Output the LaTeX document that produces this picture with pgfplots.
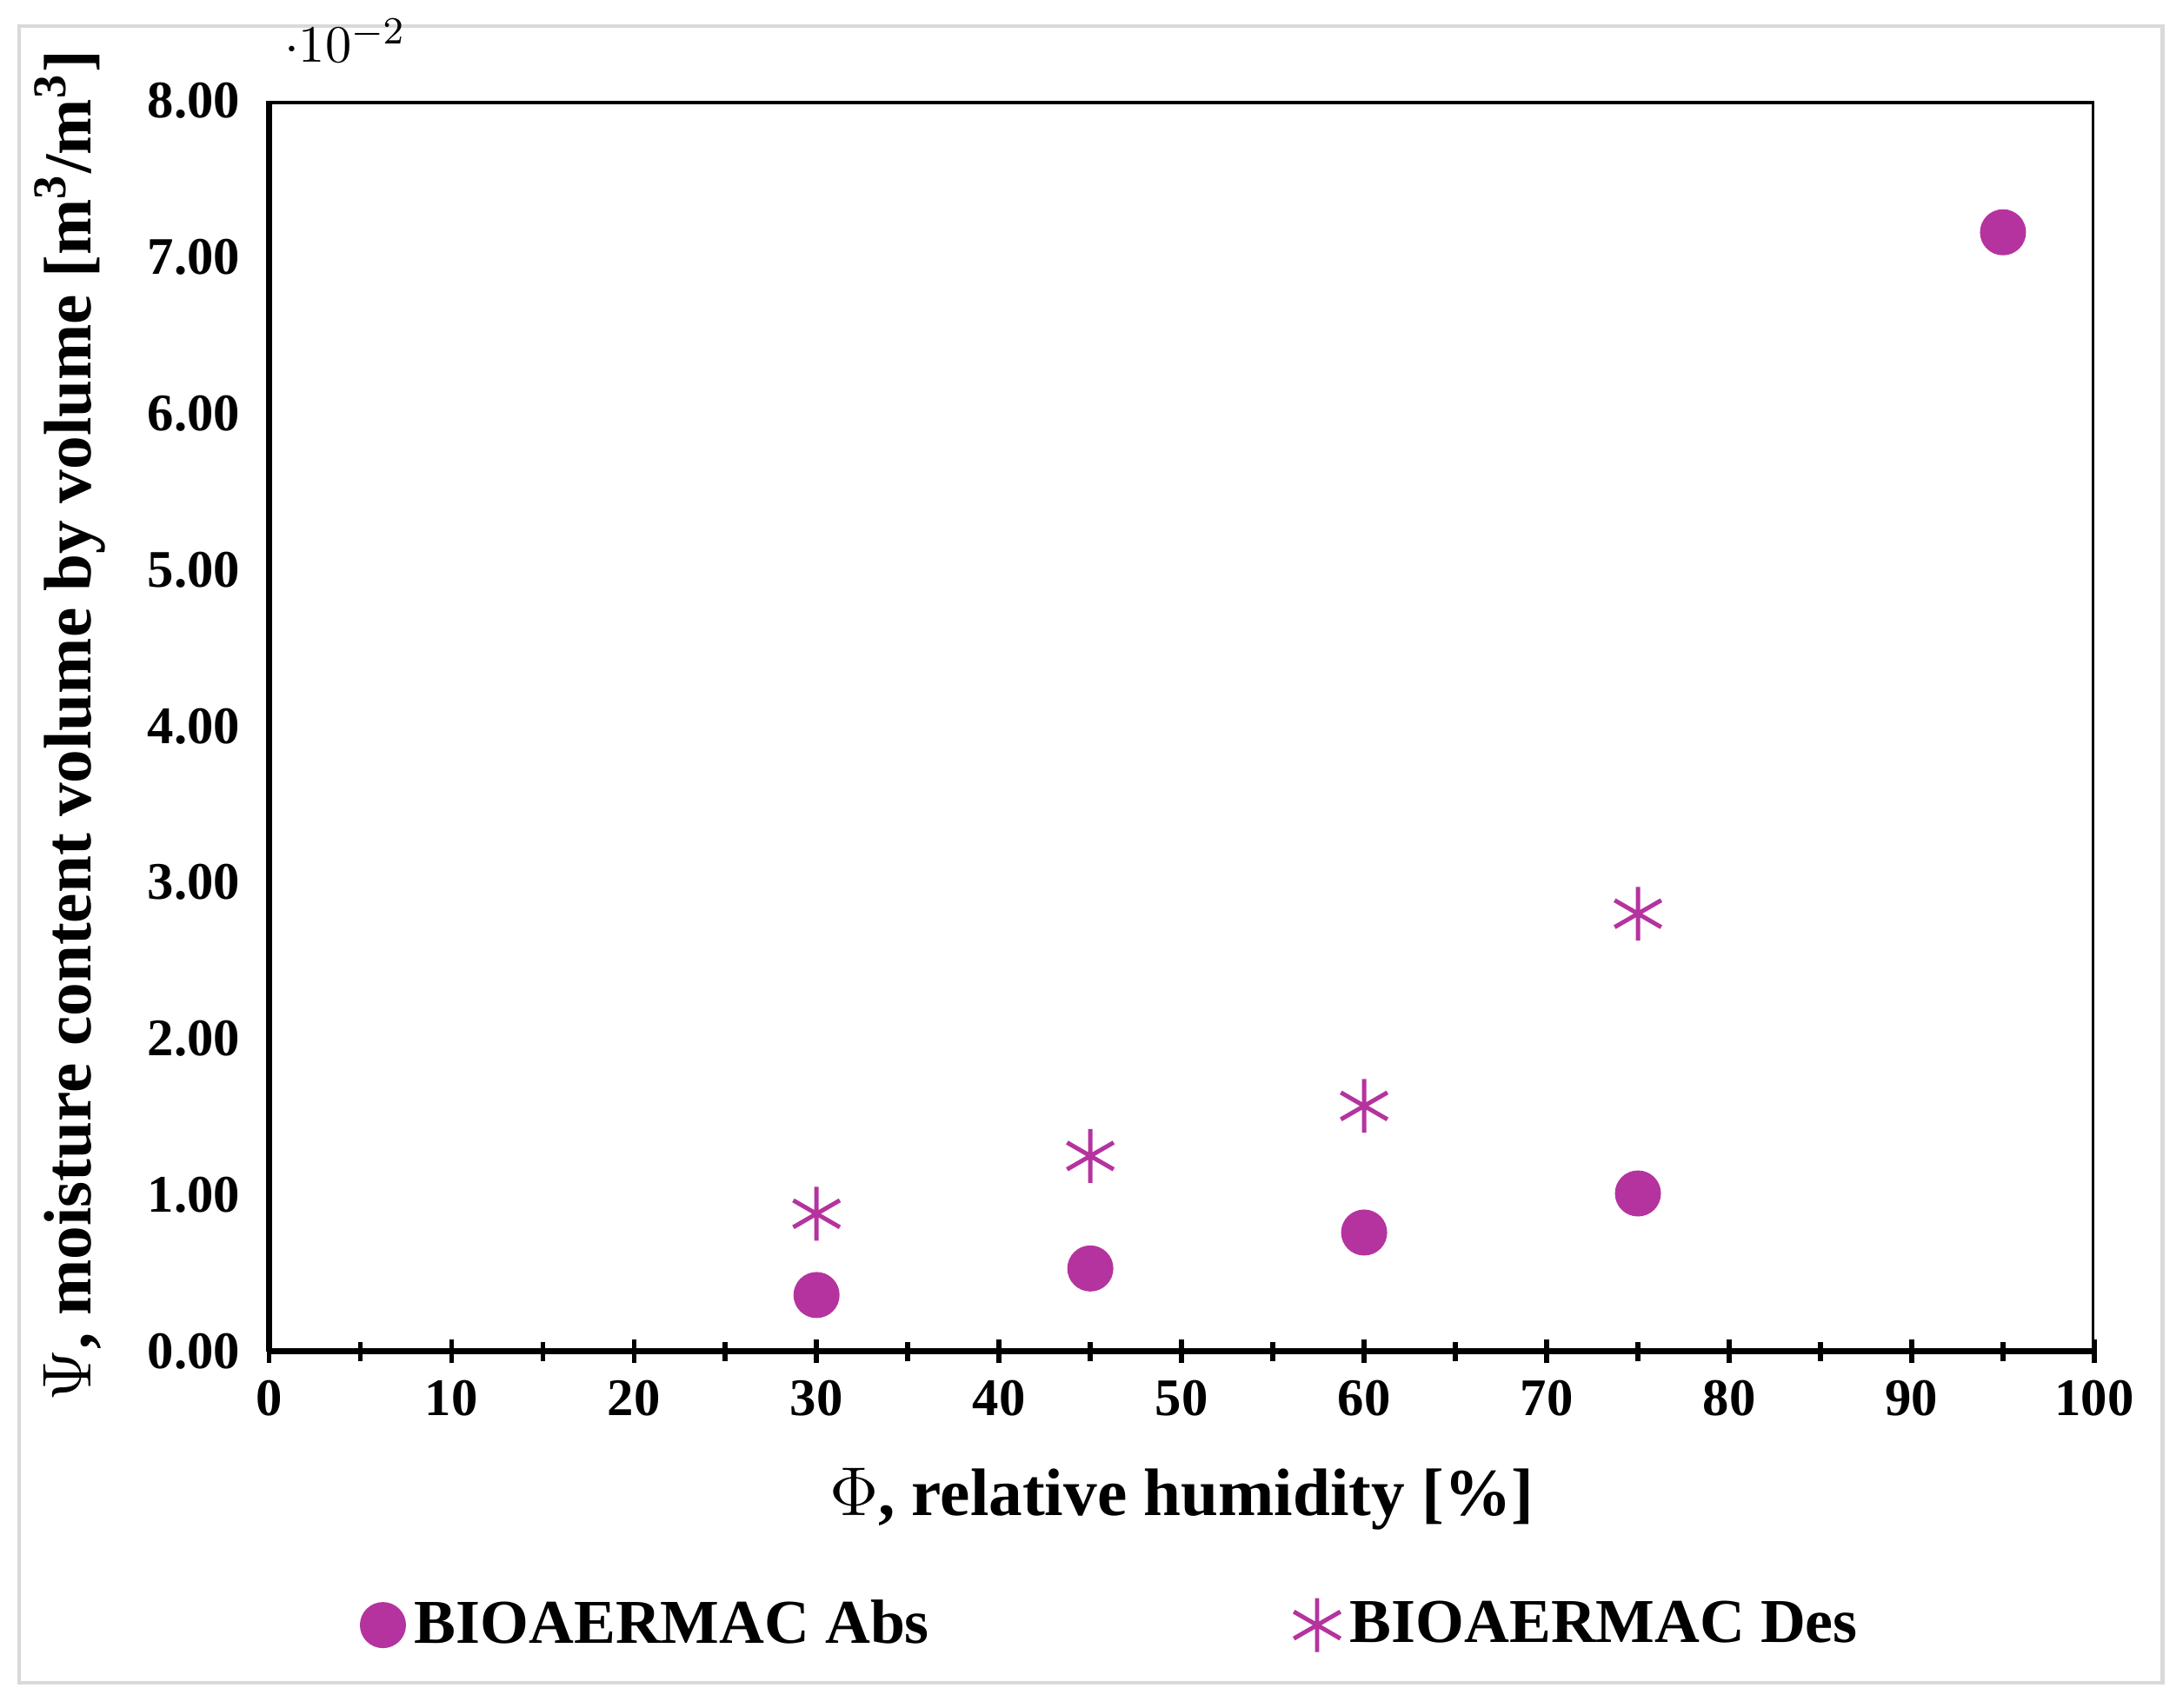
\documentclass[border=0pt]{standalone}
\usepackage{pgfplots}
\pgfplotsset{compat=1.18}
\usepackage{fontspec}
\setmainfont{Liberation Serif}
\definecolor{mg}{HTML}{B5339F}
\begin{document}
\begin{tikzpicture}
\path[use as bounding box] (-1.97,-2.61) rectangle (14.02,9.90);
\draw[black!15,line width=0.8pt] (-1.83,-2.43) rectangle (13.87,9.71);
\begin{axis}[at={(0,0)},anchor=origin,
 scale only axis, width=13.37cm, height=9.16cm,
 xmin=0,xmax=100,ymin=0,ymax=0.08,
 xtick={0,10,...,100}, ytick={0,0.01,...,0.08},
 minor x tick num=1,
 axis line style={line width=1.2pt}, major tick style={line width=1pt,black},
 minor tick style={line width=1pt,black},
 axis x line*=bottom, axis y line*=left,
 ytick style={draw=none},
 tick align=center, major tick length=5pt, minor tick length=4pt,
 axis line style={-},
 every axis/.append style={},
 /pgf/number format/assume math mode=true,
 yticklabel style={/pgf/number format/fixed,/pgf/number format/fixed zerofill,/pgf/number format/precision=2},
 ticklabel style={font=\fontsize{11}{13}\selectfont\bfseries},
 xlabel={\textbf{$\Phi$, relative humidity [\%]}},
 ylabel={\textbf{$\Psi$, moisture content volume by volume [m\textsuperscript{3}/m\textsuperscript{3}]}},
 label style={font=\fontsize{14}{16}\selectfont\bfseries},
 xlabel style={yshift=-4pt},
 ylabel style={yshift=2pt},
 legend columns=2,
 legend style={draw=none,at={(0.463,-0.219)},anchor=center,font=\fontsize{13}{15}\selectfont\bfseries,
   /tikz/every even column/.append style={column sep=2.6cm}},
]
\draw[line width=1.2pt] (rel axis cs:0,1) -- (rel axis cs:1,1) -- (rel axis cs:1,0);
\addplot[only marks,mark=*,mark size=4.6pt,mg,mark options={fill=mg,draw=mg}] coordinates {(30,0.0036)(45,0.0053)(60,0.0076)(75,0.0101)(95,0.0716)};
\addlegendentry{BIOAERMAC Abs}
\addplot[only marks,mark=asterisk,mark size=5.6pt,mg,mark options={line width=0.9pt}] coordinates {(30,0.0088)(45,0.0125)(60,0.0157)(75,0.028)};
\addlegendentry{BIOAERMAC Des}
\end{axis}
\end{tikzpicture}
\end{document}
